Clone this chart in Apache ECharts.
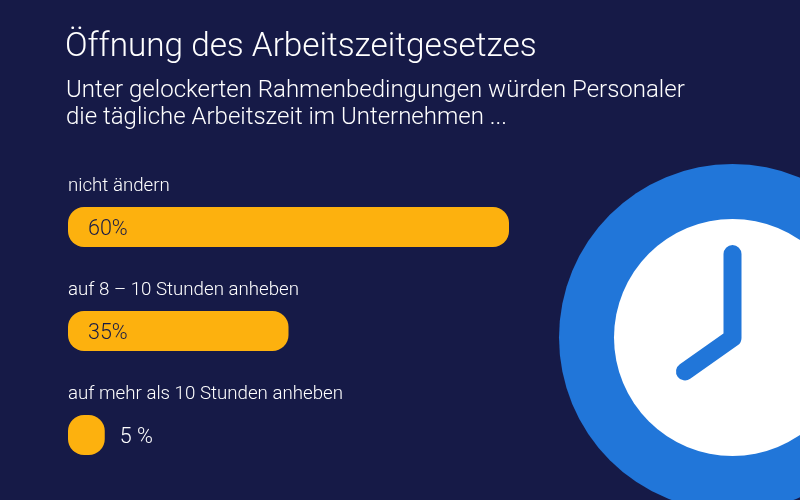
<!DOCTYPE html>
<html>
<head>
<meta charset="utf-8">
<style>html,body{margin:0;padding:0;background:#161a47}#chart{width:800px;height:500px}</style>
<script src="https://cdn.jsdelivr.net/npm/echarts@6/dist/echarts.min.js"></script>
</head>
<body>
<div id="chart"></div>
<script>
const categories = ['nicht ändern', 'auf 8 – 10 Stunden anheben', 'auf mehr als 10 Stunden anheben'];
// drawn lengths as pictured: the middle bar is printed 35% but is only about 30 units long
const barValues = [60, 30, 5];
const valueLabels = ['60%', '35%', '5 %'];

const bg = '#161a47';
const fontName = 'Roboto';

const chart = echarts.init(document.getElementById('chart'));

chart.setOption({
    backgroundColor: bg,
    animation: false,
    title: [
        {
            text: 'Öffnung des Arbeitszeitgesetzes',
            left: 60, top: 26,
            textStyle: { color: '#fff', fontFamily: fontName, fontSize: 33.3, fontWeight: 300 }
        },
        {
            text: 'Unter gelockerten Rahmenbedingungen würden Personaler\ndie tägliche Arbeitszeit im Unternehmen ...',
            left: 61, top: 72,
            textStyle: { color: '#fff', fontFamily: fontName, fontSize: 24, fontWeight: 300, lineHeight: 27 }
        }
    ],
    grid: { left: 68, top: 175, width: 441, height: 312 },
    xAxis: { type: 'value', min: 0, max: 60, show: false },
    yAxis: {
        type: 'category',
        inverse: true,
        data: categories,
        axisLine: { show: false },
        axisTick: { show: false },
        axisLabel: {
            inside: true,
            margin: 0,
            verticalAlign: 'bottom',
            padding: [0, 0, 31, 0],
            color: '#fff',
            fontFamily: fontName,
            fontSize: 18.7,
            fontWeight: 300
        }
    },
    series: [{
        type: 'bar',
        barWidth: 40,
        z: 3,
        itemStyle: { color: '#fdb10e', borderRadius: 16 },
        data: barValues.map((v, i) => ({
            value: v,
            label: i === 2
                ? { position: 'right', distance: 15, color: '#fff' }
                : { position: 'insideLeft', distance: 20, color: bg }
        })),
        label: {
            show: true,
            offset: [0, 3],
            fontFamily: fontName,
            fontSize: 21.5,
            fontWeight: 300,
            formatter: p => valueLabels[p.dataIndex]
        }
    }],
    graphic: [
        { type: 'circle', shape: { cx: 732.5, cy: 337.5, r: 173.5 }, style: { fill: '#2176d9' }, silent: true },
        { type: 'circle', shape: { cx: 732.5, cy: 337.5, r: 118.5 }, style: { fill: '#fff' }, silent: true },
        {
            type: 'polyline',
            shape: { points: [[732.5, 254], [732.5, 338], [685, 371.5]] },
            style: { stroke: '#2176d9', lineWidth: 18, fill: null, lineCap: 'round', lineJoin: 'round' },
            silent: true
        }
    ]
});
</script>
</body>
</html>
